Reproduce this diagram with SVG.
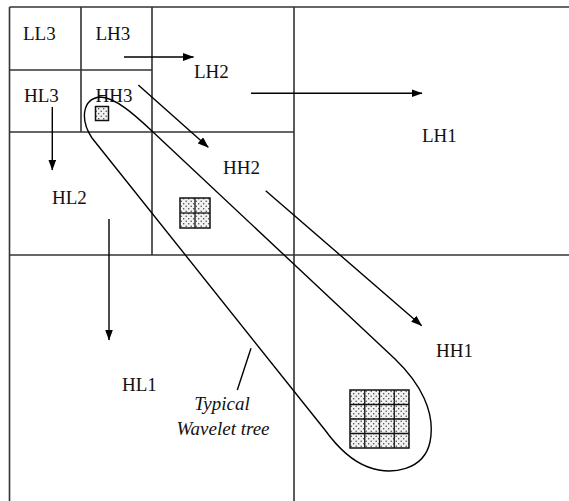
<svg xmlns="http://www.w3.org/2000/svg" width="569" height="501" viewBox="0 0 569 501">
<style>
.grid{stroke:#333;stroke-width:1.6;fill:none}
.arr{stroke:#000;stroke-width:1.4;fill:none;marker-end:url(#ah)}
.lbl{font-family:"Liberation Serif","Times New Roman",serif;font-size:19px;fill:#111}
.it{font-family:"Liberation Serif","Times New Roman",serif;font-size:19px;font-style:italic;fill:#111}
.blk{fill:url(#dots);stroke:#111;stroke-width:1.5}
.cell{stroke:#111;stroke-width:1.3;fill:none}
</style>
<defs>
<marker id="ah" markerUnits="userSpaceOnUse" markerWidth="12" markerHeight="9" refX="10.5" refY="4" orient="auto">
<path d="M0,0 L11,4 L0,8 Z" fill="#000"/>
</marker>
<pattern id="dots" patternUnits="userSpaceOnUse" width="5" height="5">
<rect width="5" height="5" fill="#f2f2f2"/>
<circle cx="1.2" cy="1.2" r="0.75" fill="#444"/>
<circle cx="3.7" cy="3.7" r="0.75" fill="#444"/>
</pattern>
</defs>
<rect width="569" height="501" fill="#fff"/>
<g id="grid">
<line class="grid" x1="9.5" y1="7" x2="569" y2="7"/>
<line class="grid" x1="9.5" y1="7" x2="9.5" y2="501"/>
<line class="grid" x1="81" y1="7" x2="81" y2="132"/>
<line class="grid" x1="152" y1="7" x2="152" y2="255"/>
<line class="grid" x1="294" y1="7" x2="294" y2="501"/>
<line class="grid" x1="9.5" y1="70" x2="152" y2="70"/>
<line class="grid" x1="9.5" y1="132" x2="294" y2="132"/>
<line class="grid" x1="9.5" y1="255" x2="569" y2="255"/>
</g>
<g id="labels">
<text id="LL3" class="lbl" x="23" y="40">LL3</text>
<text id="LH3" class="lbl" x="95.5" y="40">LH3</text>
<text id="HL3" class="lbl" x="24" y="102">HL3</text>
<text id="HH3" class="lbl" x="95.5" y="102">HH3</text>
<text id="LH2" class="lbl" x="194" y="77.5">LH2</text>
<text id="LH1" class="lbl" x="422" y="142">LH1</text>
<text id="HL2" class="lbl" x="52" y="204">HL2</text>
<text id="HH2" class="lbl" x="223" y="173.5">HH2</text>
<text id="HL1" class="lbl" x="122" y="391">HL1</text>
<text id="HH1" class="lbl" x="436" y="357">HH1</text>
</g>
<g id="blocks">
<rect class="blk" x="95.5" y="106.5" width="13" height="14"/>
<g id="block2">
<rect class="blk" x="180" y="198" width="30" height="30"/>
<line class="cell" x1="195" y1="198" x2="195" y2="228"/>
<line class="cell" x1="180" y1="213" x2="210" y2="213"/>
</g>
<g id="block4">
<rect class="blk" x="350" y="390" width="59" height="58"/>
<line class="cell" x1="364.75" y1="390" x2="364.75" y2="448"/>
<line class="cell" x1="379.5" y1="390" x2="379.5" y2="448"/>
<line class="cell" x1="394.25" y1="390" x2="394.25" y2="448"/>
<line class="cell" x1="350" y1="404.5" x2="409" y2="404.5"/>
<line class="cell" x1="350" y1="419" x2="409" y2="419"/>
<line class="cell" x1="350" y1="433.5" x2="409" y2="433.5"/>
</g>
</g>
<g id="connectors">
<line class="arr" x1="124" y1="57" x2="193.5" y2="57"/>
<line class="arr" x1="251" y1="93.3" x2="422" y2="93.3"/>
<line class="arr" x1="52.3" y1="107" x2="52.3" y2="170"/>
<line class="arr" x1="109" y1="219" x2="109" y2="340"/>
<line class="arr" x1="138.3" y1="85" x2="208.3" y2="147.3"/>
<line class="arr" x1="265.7" y1="190.7" x2="421.7" y2="325.7"/>
<line x1="251" y1="348.3" x2="237.3" y2="390" stroke="#000" stroke-width="1.4"/>
</g>
<g id="tree">
<path d="M100,97 C115,97 135,115 153,132 L395,359 C420,383 436,412 430,442 C424,470 392,476 368,467 C352,461 338,448 325,430 L92,138 C80,120 82,99 100,97 Z" fill="none" stroke="#000" stroke-width="1.4"/>
<text class="it" x="222" y="410" text-anchor="middle">Typical</text>
<text class="it" x="223" y="435" text-anchor="middle">Wavelet tree</text>
</g>
</svg>
